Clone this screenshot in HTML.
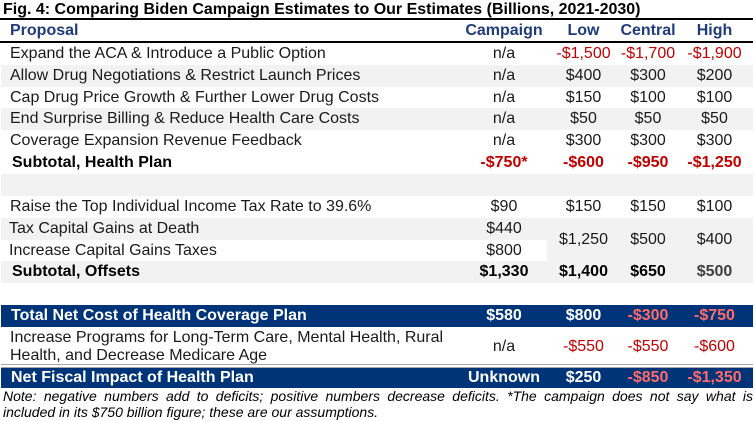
<!DOCTYPE html>
<html><head><meta charset="utf-8"><style>
*{margin:0;padding:0;box-sizing:border-box}
html,body{width:755px;height:421px;background:#fff;overflow:hidden}
body{position:relative;font-family:"Liberation Sans",Arial,sans-serif;font-size:16px;color:#1a1a1a}
.r{position:absolute;left:1px;width:752px}
.g{background:#f2f2f2}
.n{background:#003478;color:#fff;font-weight:bold}
.c{position:absolute;top:0;height:100%;display:flex;align-items:center;justify-content:center;white-space:nowrap}
.l{position:absolute;top:0;height:100%;display:flex;align-items:center;left:9px;white-space:nowrap}
.cc{left:460px;width:86px}
.lo{left:546px;width:73px}
.ce{left:619px;width:56px}
.hi{left:675px;width:77px}
.red{color:#c00000}
.pk{color:#ff6b6b}
.note{position:absolute;left:3px;width:750px;font-style:italic;font-size:14px;line-height:15.5px;color:#000;white-space:nowrap}
</style></head><body>
<div style="position:absolute;left:3px;top:0;height:19px;line-height:19px;font-weight:bold;font-size:16px;color:#000;white-space:nowrap">Fig. 4: Comparing Biden Campaign Estimates to Our Estimates (Billions, 2021-2030)</div>
<div style="position:absolute;left:0;top:18px;width:753px;height:2px;background:#000"></div>

<div class="r" style="top:20px;height:21px;color:#1f3c78;font-weight:bold">
<div class="l">Proposal</div><div class="c cc">Campaign</div><div class="c lo">Low</div><div class="c ce">Central</div><div class="c hi">High</div></div>
<div style="position:absolute;left:0;top:41px;width:753px;height:1.5px;background:#000"></div>

<div class="r" style="top:43px;height:22px"><div class="l">Expand the ACA &amp; Introduce a Public Option</div><div class="c cc">n/a</div><div class="c lo red">-$1,500</div><div class="c ce red">-$1,700</div><div class="c hi red">-$1,900</div></div>
<div class="r g" style="top:65px;height:22px"><div class="l">Allow Drug Negotiations &amp; Restrict Launch Prices</div><div class="c cc">n/a</div><div class="c lo">$400</div><div class="c ce">$300</div><div class="c hi">$200</div></div>
<div class="r" style="top:87px;height:21px"><div class="l">Cap Drug Price Growth &amp; Further Lower Drug Costs</div><div class="c cc">n/a</div><div class="c lo">$150</div><div class="c ce">$100</div><div class="c hi">$100</div></div>
<div class="r g" style="top:108px;height:22px"><div class="l">End Surprise Billing &amp; Reduce Health Care Costs</div><div class="c cc">n/a</div><div class="c lo">$50</div><div class="c ce">$50</div><div class="c hi">$50</div></div>
<div class="r" style="top:130px;height:22px"><div class="l">Coverage Expansion Revenue Feedback</div><div class="c cc">n/a</div><div class="c lo">$300</div><div class="c ce">$300</div><div class="c hi">$300</div></div>
<div class="r" style="top:152px;height:22px;font-weight:bold;color:#000"><div class="l" style="left:11px">Subtotal, Health Plan</div><div class="c cc red">-$750*</div><div class="c lo red">-$600</div><div class="c ce red">-$950</div><div class="c hi red">-$1,250</div></div>
<div class="r g" style="top:174px;height:22px"></div>
<div class="r" style="top:196px;height:22px"><div class="l">Raise the Top Individual Income Tax Rate to 39.6%</div><div class="c cc">$90</div><div class="c lo">$150</div><div class="c ce">$150</div><div class="c hi">$100</div></div>
<div class="r g" style="top:218px;height:43px">
<div class="l" style="height:22px;left:8px">Tax Capital Gains at Death</div>
<div class="c cc" style="height:22px">$440</div>
<div style="position:absolute;left:0;top:22px;width:546px;height:21px;background:#fff"></div>
<div class="l" style="top:22px;height:21px;left:8px">Increase Capital Gains Taxes</div>
<div class="c cc" style="top:22px;height:21px">$800</div>
<div class="c lo">$1,250</div><div class="c ce">$500</div><div class="c hi">$400</div>
</div>
<div class="r g" style="top:261px;height:22px;font-weight:bold;color:#000"><div class="l" style="left:11px">Subtotal, Offsets</div><div class="c cc">$1,330</div><div class="c lo">$1,400</div><div class="c ce">$650</div><div class="c hi" style="color:#404040">$500</div></div>

<div class="r n" style="top:305px;height:22px"><div class="l" style="left:10px">Total Net Cost of Health Coverage Plan</div><div class="c cc">$580</div><div class="c lo">$800</div><div class="c ce pk">-$300</div><div class="c hi pk">-$750</div></div>
<div class="r" style="top:327px;height:38px">
<div style="position:absolute;left:9px;top:2px;line-height:18px;white-space:nowrap">Increase Programs for Long-Term Care, Mental Health, Rural<br>Health, and Decrease Medicare Age</div>
<div class="c cc" style="top:2px;height:36px">n/a</div><div class="c lo red" style="top:2px;height:36px">-$550</div><div class="c ce red" style="top:2px;height:36px">-$550</div><div class="c hi red" style="top:2px;height:36px">-$600</div></div>
<div style="position:absolute;left:1px;top:364px;width:752px;height:4px;border-top:1px solid #a6a6a6;border-bottom:1px solid #a6a6a6"></div>
<div class="r n" style="top:368px;height:20px"><div class="l" style="left:10px">Net Fiscal Impact of Health Plan</div><div class="c cc">Unknown</div><div class="c lo">$250</div><div class="c ce pk">-$850</div><div class="c hi pk">-$1,350</div></div>

<div class="note" style="top:389px;text-align:justify;text-align-last:justify;white-space:normal">Note: negative numbers add to deficits; positive numbers decrease deficits. *The campaign does not say what is</div>
<div class="note" style="top:404.5px">included in its $750 billion figure; these are our assumptions.</div>
</body></html>
